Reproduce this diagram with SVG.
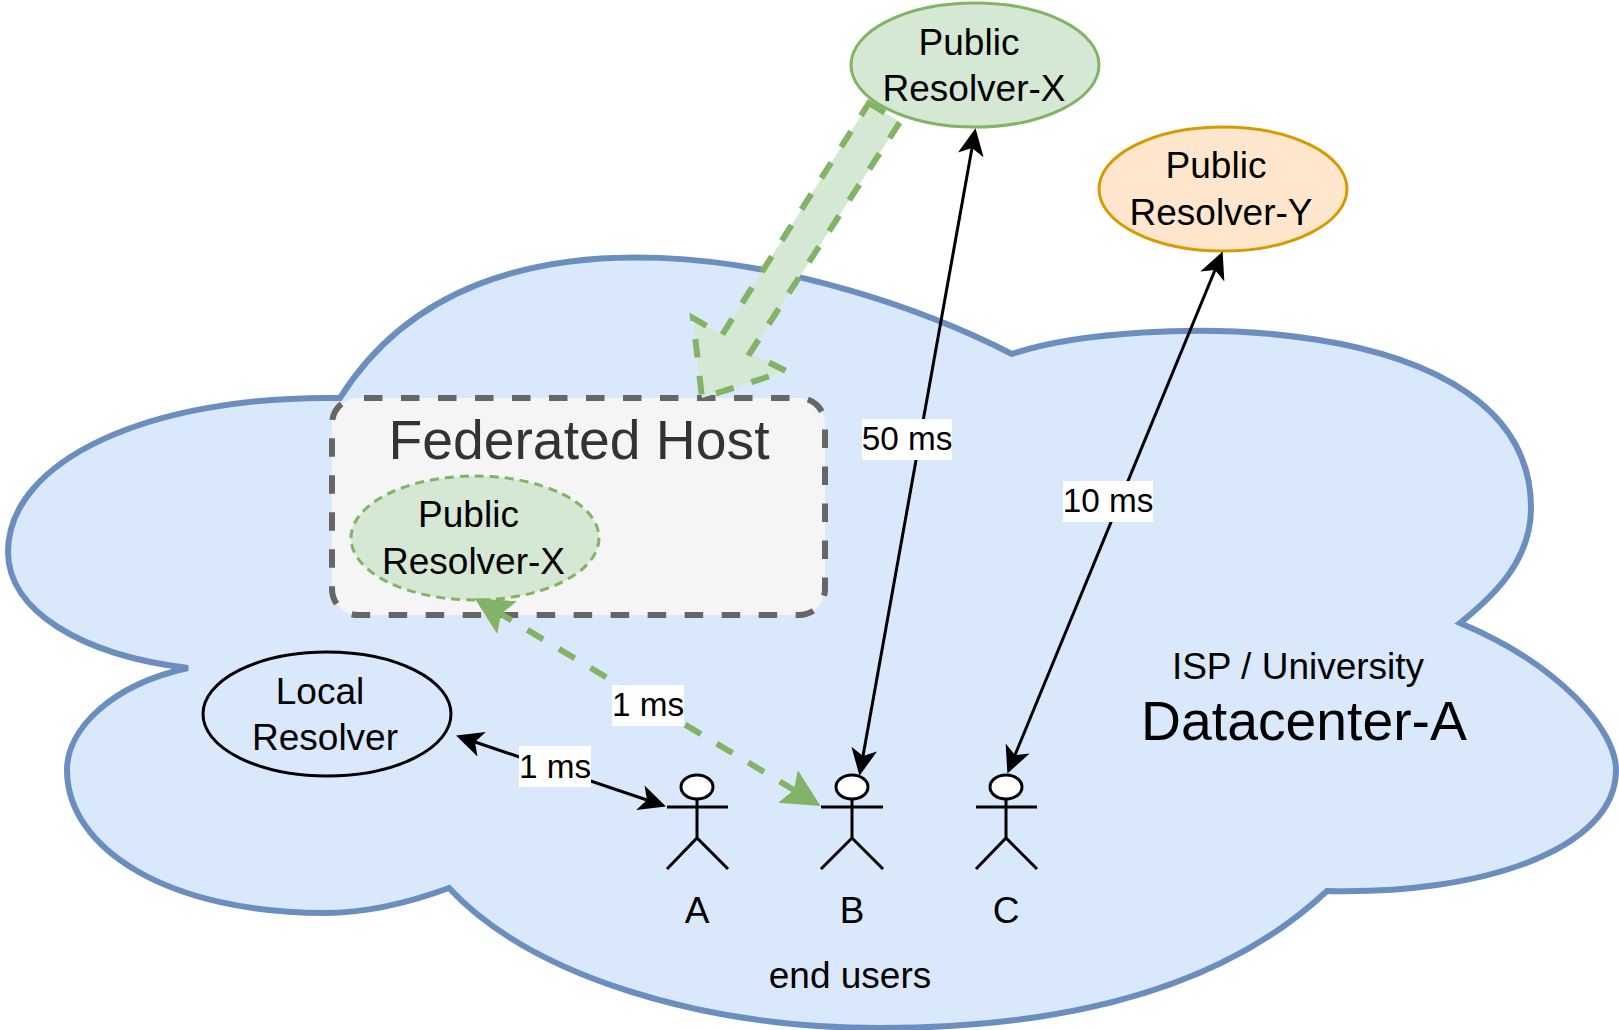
<svg xmlns="http://www.w3.org/2000/svg" width="1619" height="1030" viewBox="0 0 1619 1030">
<style>
text{font-family:"Liberation Sans",Arial,sans-serif;font-size:37px;fill:#000;text-anchor:middle}
.big{font-size:55.3px}
.lbl{font-size:33.3px}
.lb{fill:#fff;stroke:none}
.thin{fill:none;stroke:#000;stroke-width:3}
.gd{fill:none;stroke:#82b366;stroke-width:6;stroke-dasharray:18.4 18.4;stroke-dashoffset:6}
.stick{fill:none;stroke:#000;stroke-width:3}
.head{fill:#fff;stroke:#000;stroke-width:3}
</style>
<defs>
<marker id="ab" markerUnits="userSpaceOnUse" markerWidth="40" markerHeight="40" refX="7" refY="20" orient="auto-start-reverse" viewBox="0 0 40 40"><path d="M0 7 L7 20 L0 33 L27 20 Z" fill="#000"/></marker>
<marker id="ag" markerUnits="userSpaceOnUse" markerWidth="50" markerHeight="50" refX="7" refY="25" orient="auto-start-reverse" viewBox="0 0 50 50"><path d="M0 6 L7 25 L0 44 L38 25 Z" fill="#82b366"/></marker>
</defs>
<g id="cloud"><path d="M340 398 C479 176 830 261 1012 354 C1130 314 1531 304 1531 508 C1531 560 1495 595 1460 623 C1560 665 1616 730 1616 770 C1616 850 1480 895 1327 891 C1200 1010 1010 1028 880 1028 C700 1028 530 975 449 888 C400 906 360 913 325 913 C170 913 67 850 67 770 C67 730 110 685 188 668 C80 655 8 610 8 552 C8 460 150 395 340 398 Z" fill="#dae8fc" stroke="#6c8ebf" stroke-width="6"/>
<text x="1298" y="679">ISP / University</text><text class="big" x="1304" y="740">Datacenter-A</text><text x="850" y="988">end users</text></g>
<g id="federated-host"><rect x="332" y="398" width="493" height="217" rx="26" fill="#f5f5f5" stroke="#666" stroke-width="6" stroke-dasharray="18.5 18.5" stroke-dashoffset="31"/><text class="big" x="579" y="459" style="fill:#333">Federated Host</text></g>
<g id="resolver-x-inner"><ellipse cx="475" cy="538" rx="124" ry="62" fill="#d5e8d4" stroke="#82b366" stroke-width="3" stroke-dasharray="9 6"/><text x="468.500" y="527">Public</text><text x="473.500" y="574">Resolver-X</text></g>
<g id="resolver-x"><ellipse cx="975" cy="65" rx="124" ry="62" fill="#d5e8d4" stroke="#82b366" stroke-width="3"/><text x="969" y="55">Public</text><text x="974" y="101">Resolver-X</text></g>
<g id="resolver-y"><ellipse cx="1223" cy="189" rx="124" ry="62" fill="#ffe6cc" stroke="#d79b00" stroke-width="3"/><text x="1216" y="178">Public</text><text x="1221" y="225">Resolver-Y</text></g>
<g id="local-resolver"><ellipse cx="327" cy="714" rx="124" ry="62" fill="none" stroke="#000" stroke-width="3"/><text x="320" y="704">Local</text><text x="325" y="750">Resolver</text></g>
<g id="user-a"><ellipse class="head" cx="697" cy="787" rx="16" ry="12"/><path class="stick" d="M697 799V838M667 807H728M667 869L697 838L728 869"/><text x="697" y="923">A</text></g>
<g id="user-b"><ellipse class="head" cx="852" cy="787" rx="16" ry="12"/><path class="stick" d="M852 799V838M821 807H883M821 869L852 838L883 869"/><text x="852" y="923">B</text></g>
<g id="user-c"><ellipse class="head" cx="1006" cy="787" rx="16" ry="12"/><path class="stick" d="M1006 799V838M976 807H1037M976 869L1006 838L1037 869"/><text x="1006" y="923">C</text></g>
<g id="connectors">
<path d="M869 103 L900 122 L750 353 L786 371 L702 398 L693 318 L722 335 Z" fill="#d5e8d4" stroke="#82b366" stroke-width="6" stroke-dasharray="18.5 18.5"/>
<path class="gd" d="M501 614 L794 790" marker-start="url(#ag)" marker-end="url(#ag)"/>
<path class="thin" d="M475 742 L647 800" marker-start="url(#ab)" marker-end="url(#ab)"/>
<path class="thin" d="M972 148 L863 756" marker-start="url(#ab)" marker-end="url(#ab)"/>
<path class="thin" d="M1215 270 L1015 755" marker-start="url(#ab)" marker-end="url(#ab)"/>
<rect class="lb" x="612" y="685" width="72" height="41"/><text class="lbl" x="648" y="716">1 ms</text>
<rect class="lb" x="519" y="746" width="72" height="41"/><text class="lbl" x="555" y="778">1 ms</text>
<rect class="lb" x="862" y="419" width="90" height="41"/><text class="lbl" x="907" y="450">50 ms</text>
<rect class="lb" x="1063" y="481" width="90" height="41"/><text class="lbl" x="1108" y="512">10 ms</text>
</g>
</svg>
